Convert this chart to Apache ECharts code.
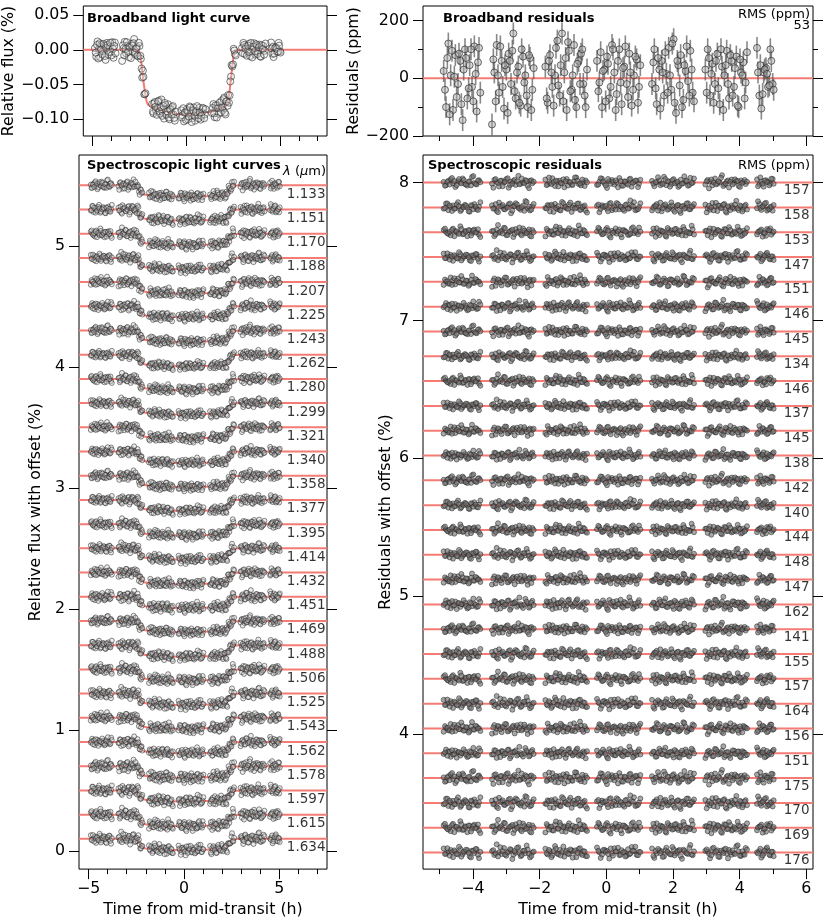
<!DOCTYPE html>
<html>
<head>
<meta charset="utf-8">
<script src="https://cdn.jsdelivr.net/npm/echarts@6/dist/echarts.min.js"></script>
<style>
  html, body { margin: 0; padding: 0; background: #fff; }
  #main { width: 830px; height: 923px; }
</style>
</head>
<body>
<div id="main"></div>
<script>
// time stamps (h from mid-transit), seven HST-like orbits; two interleaved sets of exposures
const times = [
  -4.88, -4.81, -4.74, -4.67, -4.60, -4.53, -4.45, -4.38, -4.31, -4.24, -4.17, -4.10, -4.03, -3.96, -3.89, -3.82,
  -3.43, -3.36, -3.29, -3.22, -3.14, -3.07, -3.00, -2.93, -2.86, -2.79, -2.72, -2.64, -2.57, -2.50, -2.43, -2.36, -2.29, -2.22,
  -1.83, -1.76, -1.69, -1.62, -1.54, -1.47, -1.40, -1.33, -1.26, -1.19, -1.12, -1.04, -0.97, -0.90, -0.83, -0.76, -0.69, -0.62,
  -0.28, -0.21, -0.13, -0.06, 0.02, 0.09, 0.17, 0.24, 0.31, 0.39, 0.46, 0.54, 0.61, 0.69, 0.76, 0.83, 0.91, 0.98,
  1.37, 1.44, 1.51, 1.59, 1.66, 1.73, 1.80, 1.87, 1.95, 2.02, 2.09, 2.16, 2.23, 2.31, 2.38, 2.45, 2.52, 2.59,
  2.97, 3.04, 3.11, 3.18, 3.26, 3.33, 3.40, 3.47, 3.54, 3.61, 3.68, 3.76, 3.83, 3.90, 3.97, 4.04, 4.11, 4.18,
  4.52, 4.59, 4.65, 4.72, 4.79, 4.85, 4.92, 4.99
];
const timesB = [
  -4.84, -4.77, -4.70, -4.63, -4.56, -4.49, -4.42, -4.35, -4.28, -4.21, -4.13, -4.06, -3.99, -3.92, -3.85, -3.78,
  -3.39, -3.32, -3.25, -3.18, -3.11, -3.04, -2.96, -2.89, -2.82, -2.75, -2.68, -2.61, -2.54, -2.46, -2.39, -2.32, -2.25, -2.18,
  -1.79, -1.72, -1.65, -1.58, -1.51, -1.44, -1.37, -1.29, -1.22, -1.15, -1.08, -1.01, -0.94, -0.87, -0.79, -0.72, -0.65, -0.58,
  -0.24, -0.17, -0.10, -0.02, 0.05, 0.13, 0.20, 0.28, 0.35, 0.43, 0.50, 0.57, 0.65, 0.72, 0.80, 0.87, 0.95, 1.02,
  1.41, 1.48, 1.55, 1.62, 1.69, 1.77, 1.84, 1.91, 1.98, 2.05, 2.13, 2.20, 2.27, 2.34, 2.41, 2.49, 2.56, 2.63,
  3.01, 3.08, 3.15, 3.22, 3.29, 3.36, 3.44, 3.51, 3.58, 3.65, 3.72, 3.79, 3.86, 3.94, 4.01, 4.08, 4.15, 4.22,
  4.55, 4.62, 4.69, 4.75, 4.82, 4.89, 4.95, 5.02
];

// broadband transit model (%), one value per time stamp
const modelFlux = [
  0, 0, 0, 0, 0, 0, 0, 0, 0, 0, 0, 0, 0, 0, 0, 0,
  0, 0, 0, 0, 0, 0, 0, 0, 0, 0, 0, 0, 0, -0.002, -0.014, -0.030, -0.046, -0.060,
  -0.082, -0.083, -0.083, -0.084, -0.085, -0.086, -0.086, -0.087, -0.088, -0.088, -0.089, -0.089, -0.090, -0.090, -0.091, -0.091, -0.091, -0.092,
  -0.093, -0.093, -0.093, -0.093, -0.093, -0.093, -0.093, -0.093, -0.093, -0.093, -0.093, -0.092, -0.092, -0.092, -0.091, -0.091, -0.091, -0.090,
  -0.089, -0.088, -0.088, -0.087, -0.086, -0.086, -0.085, -0.084, -0.083, -0.082, -0.081, -0.079, -0.073, -0.058, -0.041, -0.023, -0.008, -0.001,
  0, 0, 0, 0, 0, 0, 0, 0, 0, 0, 0, 0, 0, 0, 0, 0, 0, 0,
  0, 0, 0, 0, 0, 0, 0, 0
];
const modelFluxB = [
  0, 0, 0, 0, 0, 0, 0, 0, 0, 0, 0, 0, 0, 0, 0, 0,
  0, 0, 0, 0, 0, 0, 0, 0, 0, 0, 0, 0, 0, -0.007, -0.021, -0.038, -0.053, -0.066,
  -0.082, -0.083, -0.084, -0.084, -0.085, -0.086, -0.087, -0.087, -0.088, -0.089, -0.089, -0.090, -0.090, -0.091, -0.091, -0.091, -0.092, -0.092,
  -0.093, -0.093, -0.093, -0.093, -0.093, -0.093, -0.093, -0.093, -0.093, -0.093, -0.093, -0.092, -0.092, -0.092, -0.091, -0.091, -0.090, -0.090,
  -0.089, -0.088, -0.087, -0.087, -0.086, -0.085, -0.085, -0.084, -0.083, -0.082, -0.080, -0.078, -0.066, -0.050, -0.033, -0.015, -0.004, 0,
  0, 0, 0, 0, 0, 0, 0, 0, 0, 0, 0, 0, 0, 0, 0, 0, 0, 0,
  0, 0, 0, 0, 0, 0, 0, 0
];
// model values inside the gap after ingress (line only)
const gapModelT = [-2.12, -2.05, -1.95];
const gapModelF = [-0.075, -0.079, -0.081];

// broadband residuals (ppm)
const bbResid = [
  25, -100, 120, 10, -110, 80, -20, 60, -145, 100, -70, 45, -30, 110, -115, 105,
  -160, 20, 115, -50, 60, -105, 30, 85, -20, 155, -70, 40, -95, 75, 10, -100, 70, -40,
  40, -85, 80, -30, 10, 130, -60, 155, 20, -110, 95, -40, 115, -100, 60, 85, -20, -100,
  60, -15, -100, 30, 75, -70, 115, 20, -55, 100, -90, 40, -20, 85, -95, 10, 65, -30,
  -20, 100, -90, 30, 60, -60, 15, 105, -40, 135, -120, 45, 80, -75, 25, -10, 95, -50,
  30, 100, -60, 50, -20, 85, -90, 40, 10, 95, -70, 60, -30, 75, -100, 20, 55, -15,
  105, -60, -105, 20, 35, -30, 100, -20
];
const bbResidB = [
  -40, 70, -125, 95, 5, -65, 85, -90, 30, 70, -35, 100, -80, 15, 55, -50,
  65, -80, 10, 110, -30, 45, -120, 60, 95, -45, 20, -85, 100, -15, -60, 80, -110, 35,
  -70, 60, 20, -95, 105, -25, 45, -80, 70, 125, -45, 10, -75, 50, -20, 100, -60, 30,
  -45, 90, 25, -80, 50, -30, 100, -110, 60, -15, 35, 110, -65, 20, -40, 75, -85, 45,
  55, -35, 70, -105, 20, 90, -50, 10, 120, -85, 60, -25, -100, 45, 110, -60, 30, -80,
  -50, 70, 15, -85, 60, -35, 100, -110, 45, -20, 80, -60, 35, -95, 65, 10, -70, 90,
  20, 45, -55, 30, 15, -25, 60, -40
];
const bbErrPpm = 38;
const bbRms = '53';

// spectroscopic residual patterns (in units of each channel's RMS)
const noiseA = [
  0.3, -1.2, 0.8, 1.5, -0.4, -2.1, 0.6, 0.1, 1.9, -0.7, -1.4, 0.5, 2.6, -0.2, -0.9, 1.1,
  -0.5, 1.3, 0.2, -1.8, 0.9, -0.1, 1.6, -2.4, 0.4, 0.7, -1.1, 3.1, -0.6, 0.0, 1.2, -1.5, 0.8, -0.3,
  1.4, -0.8, -0.2, 2.0, -1.6, 0.5, 0.9, -0.4, -2.2, 1.7, 0.3, -1.0, 0.6, 2.3, -0.7, -1.3, 0.2, 1.0,
  -1.1, 0.4, 1.8, -0.3, -2.5, 0.7, 1.2, -0.9, 0.1, 2.1, -1.4, 0.6, -0.5, 1.5, -1.9, 0.3, 0.9, -0.6,
  0.8, -1.7, 0.2, 1.1, -0.4, 2.7, -1.2, 0.5, -0.8, 1.6, 0.0, -2.0, 1.3, -0.3, 0.7, -1.5, 2.2, -0.1,
  -0.9, 1.2, 0.4, -1.3, 1.9, -0.6, 0.1, 3.4, -1.0, 0.6, -2.3, 1.4, -0.2, 0.8, -1.6, 1.0, 0.3, -0.7,
  1.5, -0.8, 0.4, -1.9, 1.1, 0.2, -0.5, 1.7
];
const noiseB = [
  -0.6, 1.8, -1.3, 0.2, 0.9, -0.5, 2.4, -1.7, 0.4, 1.2, -0.1, -2.0, 0.7, 1.5, -0.9, 0.3,
  1.0, -0.4, -1.6, 2.2, 0.5, -0.8, 0.1, 1.4, -2.7, 0.6, 1.9, -0.2, -1.1, 0.8, 2.9, -0.5, -1.4, 0.4,
  -0.3, 1.1, -1.9, 0.6, 1.6, -0.7, -1.2, 2.5, 0.2, -0.5, 1.3, -2.1, 0.9, -0.1, 1.8, -1.0, 0.4, -1.5,
  0.7, -2.2, 1.0, 0.3, -0.6, 1.7, -1.3, 0.5, 2.0, -0.9, 0.1, -1.6, 1.4, -0.4, 0.8, 2.4, -1.1, 0.2,
  -1.4, 0.6, 1.5, -0.2, -1.8, 0.9, 0.3, -0.7, 2.3, -1.2, 0.4, 1.1, -2.6, 0.7, -0.3, 1.9, -0.8, 0.5,
  1.3, -0.5, -1.1, 2.0, 0.4, -1.7, 0.8, -0.2, 1.6, -2.4, 0.1, 0.9, -0.6, 3.0, -1.3, 0.5, -0.9, 1.2,
  -0.4, 1.6, -1.2, 0.7, 2.1, -0.9, 0.3, -1.5
];
const noiseC = [
  1.1, 0.2, -0.8, -1.5, 1.7, 0.4, -0.3, 2.8, -1.0, 0.6, -1.9, 0.9, -0.4, 1.3, 0.0, -1.2,
  0.5, -1.9, 1.2, -0.3, 0.8, 2.1, -1.4, -0.1, 0.7, -2.3, 1.5, 0.3, -0.9, 1.8, -0.6, 0.4, -1.7, 1.0,
  -2.0, 0.8, 0.3, -1.1, 1.4, -0.4, 2.2, -1.5, 0.6, -0.2, 1.9, -0.8, -1.3, 0.5, 3.2, -0.6, 1.1, -0.9,
  0.4, 1.5, -1.0, -0.3, 2.0, -1.8, 0.7, 0.2, -0.7, 1.3, -2.4, 0.9, 0.1, -1.2, 1.7, -0.5, -0.1, 2.2,
  -0.7, 0.3, 1.9, -1.4, 0.6, -0.2, -2.1, 1.2, 0.8, -0.5, 1.6, -1.0, 0.4, 2.5, -1.6, 0.1, -0.4, 1.4,
  0.6, -1.5, 1.8, -0.1, -0.9, 1.1, 0.4, -2.2, 1.5, -0.6, 2.4, -1.2, 0.3, -0.8, 1.0, -1.8, 0.7, 0.0,
  -1.1, 0.5, 1.3, -0.6, -1.7, 0.9, 1.8, -0.3
];

// channels
const wavelengths = ['1.133', '1.151', '1.170', '1.188', '1.207', '1.225', '1.243', '1.262', '1.280', '1.299',
  '1.321', '1.340', '1.358', '1.377', '1.395', '1.414', '1.432', '1.451', '1.469', '1.488',
  '1.506', '1.525', '1.543', '1.562', '1.578', '1.597', '1.615', '1.634'];
const rmsPpm = [157, 158, 153, 147, 151, 146, 145, 134, 146, 137, 145, 138, 142, 140, 144, 148, 147, 162, 141, 155,
  157, 164, 156, 151, 175, 170, 169, 176];
const depthScale = [1.00, 0.98, 1.01, 0.99, 1.02, 0.97, 1.00, 1.03, 0.99, 1.01, 0.98, 1.02, 1.00, 0.97,
  1.01, 0.99, 1.03, 1.00, 0.98, 1.02, 0.99, 1.01, 0.97, 1.00, 1.02, 0.98, 1.01, 1.00];
const lcOffsets = [5.5, 5.3, 5.1, 4.9, 4.7, 4.5, 4.3, 4.1, 3.9, 3.7, 3.5, 3.3, 3.1, 2.9, 2.7, 2.5, 2.3, 2.1,
  1.9, 1.7, 1.5, 1.3, 1.1, 0.9, 0.7, 0.5, 0.3, 0.1];
const resOffsets = [8.00, 7.82, 7.64, 7.46, 7.28, 7.10, 6.92, 6.74, 6.56, 6.38, 6.20, 6.02, 5.84, 5.66,
  5.48, 5.30, 5.12, 4.94, 4.76, 4.58, 4.40, 4.22, 4.04, 3.86, 3.68, 3.50, 3.32, 3.14];

// axis ranges and ticks
const xLeft = [-5.5, 7.5], xRight = [-5.5, 6.2];
const xLeftMajor = [-5, 0, 5], xLeftMinor = [-4, -3, -2, -1, 1, 2, 3, 4, 6, 7];
const xRightMajor = [-4, -2, 0, 2, 4, 6], xRightMinor = [-5, -3, -1, 1, 3, 5];
const yBb = [-0.124, 0.063], yBbTicks = [-0.10, -0.05, 0.00, 0.05];
const yBbRes = [-200, 250], yBbResTicks = [-200, 0, 200], yBbResMinor = [-100, 100];
const yLc = [-0.15, 5.75], yLcTicks = [0, 1, 2, 3, 4, 5];
const yRes = [3.02, 8.2], yResTicks = [4, 5, 6, 7, 8];

[timesB, modelFlux, modelFluxB, bbResid, bbResidB, noiseA, noiseB, noiseC].forEach((a, i) => {
  if (a.length !== times.length) throw new Error('array ' + i + ' has ' + a.length + ' values, expected ' + times.length);
});

const FONT = 'DejaVu Sans';
const RED = '#f47c74';
const AX_FS = 15.8;
const minus = s => String(s).replace('-', '\u2212');

const chart = echarts.init(document.getElementById('main'));

const grids = [
  { left: 79, top: 6, width: 248, height: 130 },
  { left: 423, top: 6, width: 390, height: 130 },
  { left: 79, top: 155, width: 248, height: 719 },
  { left: 423, top: 155, width: 390, height: 719 }
].map(g => Object.assign(g, { show: true, borderColor: '#000', borderWidth: 1, containLabel: false }));

const xAxis = [], yAxis = [];
function addX(gridIndex, range, values, len, labels, name) {
  xAxis.push({
    type: 'value', gridIndex, min: range[0], max: range[1], position: 'bottom',
    axisLine: { show: false, onZero: false },
    splitLine: { show: false },
    axisTick: { show: true, length: len, customValues: values, lineStyle: { color: '#000', width: 1 } },
    axisLabel: { show: labels, customValues: values, margin: 12, fontFamily: FONT, fontSize: AX_FS, color: '#000',
      formatter: v => minus(v) },
    name: name || '', nameLocation: 'middle', nameGap: 28.5,
    nameTextStyle: { fontFamily: FONT, fontSize: AX_FS, color: '#000' }
  });
  return xAxis.length - 1;
}
function addY(gridIndex, range, values, len, side, labelFmt, name, gap) {
  yAxis.push({
    type: 'value', gridIndex, min: range[0], max: range[1], position: side,
    axisLine: { show: false, onZero: false },
    splitLine: { show: false },
    axisTick: { show: true, length: len, customValues: values, lineStyle: { color: '#000', width: 1 } },
    axisLabel: { show: !!labelFmt, customValues: values, margin: 14, fontFamily: FONT, fontSize: AX_FS, color: '#000',
      formatter: labelFmt || (v => '') },
    name: name || '', nameLocation: 'middle', nameGap: gap || 30, nameRotate: 90,
    nameTextStyle: { fontFamily: FONT, fontSize: AX_FS, color: '#000' }
  });
  return yAxis.length - 1;
}

// x axes: major then minor ticks per panel
const xa0 = addX(0, xLeft, xLeftMajor, 10, false); addX(0, xLeft, xLeftMinor, 5, false);
const xa1 = addX(1, xRight, xRightMajor, 10, false); addX(1, xRight, xRightMinor, 5, false);
const xa2 = addX(2, xLeft, xLeftMajor, 10, true, 'Time from mid-transit (h)'); addX(2, xLeft, xLeftMinor, 5, false);
const xa3 = addX(3, xRight, xRightMajor, 10, true, 'Time from mid-transit (h)'); addX(3, xRight, xRightMinor, 5, false);

// y axes: left with labels, right with ticks only
const ya0 = addY(0, yBb, yBbTicks, 10, 'left', v => minus(v.toFixed(2)), 'Relative flux (%)', 60);
addY(0, yBb, yBbTicks, 10, 'right');
const ya1 = addY(1, yBbRes, yBbResTicks, 10, 'left', v => minus(v), 'Residuals (ppm)', 55);
addY(1, yBbRes, yBbResTicks, 10, 'right');
addY(1, yBbRes, yBbResMinor, 5, 'left');
addY(1, yBbRes, yBbResMinor, 5, 'right');
const ya2 = addY(2, yLc, yLcTicks, 10, 'left', v => minus(v), 'Relative flux with offset (%)', 35);
addY(2, yLc, yLcTicks, 10, 'right');
const ya3 = addY(3, yRes, yResTicks, 10, 'left', v => minus(v), 'Residuals with offset (%)', 29);
addY(3, yRes, yResTicks, 10, 'right');

const series = [];
const lineStyle = { color: RED, width: 2 };
const byTime = (a, b) => a[0] - b[0];

// broadband light curve
const bbModelPts = times.map((t, i) => [t, modelFlux[i]])
  .concat(timesB.map((t, i) => [t, modelFluxB[i]]), gapModelT.map((t, i) => [t, gapModelF[i]]))
  .sort(byTime);
series.push({
  type: 'line', xAxisIndex: xa0, yAxisIndex: ya0, showSymbol: false, silent: true, z: 2,
  lineStyle,
  data: [[xLeft[0], 0]].concat(bbModelPts, [[xLeft[1], 0]])
});
series.push({
  type: 'scatter', xAxisIndex: xa0, yAxisIndex: ya0, symbolSize: 7, z: 3,
  itemStyle: { color: 'rgba(225,225,225,0.35)', borderColor: 'rgba(40,40,40,0.75)', borderWidth: 1 },
  data: times.map((t, i) => [t, modelFlux[i] + bbResid[i] * 1e-4])
    .concat(timesB.map((t, i) => [t, modelFluxB[i] + bbResidB[i] * 1e-4]))
});

// broadband residuals
const bbResPts = times.map((t, i) => [t, bbResid[i], bbErrPpm]).concat(timesB.map((t, i) => [t, bbResidB[i], bbErrPpm]));
series.push({
  type: 'line', xAxisIndex: xa1, yAxisIndex: ya1, showSymbol: false, silent: true, z: 2,
  lineStyle, data: [[xRight[0], 0], [xRight[1], 0]]
});
series.push({
  type: 'custom', xAxisIndex: xa1, yAxisIndex: ya1, z: 3, silent: true,
  data: bbResPts,
  renderItem: (params, api) => {
    const a = api.coord([api.value(0), api.value(1) - api.value(2)]);
    const b = api.coord([api.value(0), api.value(1) + api.value(2)]);
    return { type: 'line', shape: { x1: a[0], y1: a[1], x2: b[0], y2: b[1] },
      style: { stroke: 'rgba(90,90,90,0.72)', lineWidth: 1.6 } };
  }
});
series.push({
  type: 'scatter', xAxisIndex: xa1, yAxisIndex: ya1, symbolSize: 7, z: 4,
  itemStyle: { color: 'rgba(170,170,170,0.6)', borderColor: 'rgba(35,35,35,0.8)', borderWidth: 1 },
  data: bbResPts.map(p => [p[0], p[1]])
});

// spectroscopic channels
const patterns = [noiseA, noiseB, noiseC];
function pickPattern(k, shift) {
  let pat = patterns[(k + shift) % 3];
  if ((Math.floor(k / 3) + shift) % 2 === 1) pat = pat.slice().reverse();
  return pat;
}
wavelengths.forEach((wl, k) => {
  const resA = pickPattern(k, 0).map(v => v * rmsPpm[k] * 1e-4);
  const resB = pickPattern(k, 1).map(v => v * rmsPpm[k] * 1e-4);
  const lcModel = bbModelPts.map(p => [p[0], lcOffsets[k] + p[1] * depthScale[k]]);
  const lcPts = times.map((t, i) => [t, lcOffsets[k] + modelFlux[i] * depthScale[k] + resA[i]])
    .concat(timesB.map((t, i) => [t, lcOffsets[k] + modelFluxB[i] * depthScale[k] + resB[i]]));
  const resPts = times.map((t, i) => [t, resOffsets[k] + resA[i]])
    .concat(timesB.map((t, i) => [t, resOffsets[k] + resB[i]]));

  series.push({
    type: 'line', xAxisIndex: xa2, yAxisIndex: ya2, showSymbol: false, silent: true, z: 2, lineStyle,
    data: [[xLeft[0], lcOffsets[k]]].concat(lcModel, [[xLeft[1], lcOffsets[k]]])
  });
  series.push({
    type: 'scatter', xAxisIndex: xa2, yAxisIndex: ya2, symbolSize: 5, z: 3,
    itemStyle: { color: 'rgba(200,200,200,0.45)', borderColor: 'rgba(30,30,30,0.8)', borderWidth: 0.8 },
    data: lcPts
  });

  series.push({
    type: 'line', xAxisIndex: xa3, yAxisIndex: ya3, showSymbol: false, silent: true, z: 2, lineStyle,
    data: [[xRight[0], resOffsets[k]], [xRight[1], resOffsets[k]]]
  });
  series.push({
    type: 'scatter', xAxisIndex: xa3, yAxisIndex: ya3, symbolSize: 5, z: 3,
    itemStyle: { color: 'rgba(110,110,110,0.75)', borderColor: 'rgba(30,30,30,0.8)', borderWidth: 0.8 },
    data: resPts
  });
});

// channel labels under each line
const labelBase = { show: true, position: 'left', fontFamily: FONT, fontSize: 13.5, color: '#000', formatter: p => p.name };
series.push({
  type: 'scatter', xAxisIndex: xa2, yAxisIndex: ya2, symbolSize: 1, z: 6, clip: false, silent: true,
  itemStyle: { color: 'rgba(0,0,0,0)' },
  label: Object.assign({}, labelBase, { distance: 1, offset: [0, 9] }),
  data: wavelengths.map((wl, k) => ({ name: wl, value: [xLeft[1], lcOffsets[k]] }))
});
series.push({
  type: 'scatter', xAxisIndex: xa3, yAxisIndex: ya3, symbolSize: 1, z: 6, clip: false, silent: true,
  itemStyle: { color: 'rgba(0,0,0,0)' },
  label: Object.assign({}, labelBase, { distance: 3, offset: [0, 8] }),
  data: rmsPpm.map((r, k) => ({ name: String(r), value: [xRight[1], resOffsets[k]] }))
});

const bold = 'bold 13px "DejaVu Sans"';
const plain = '13px "DejaVu Sans"';
const graphic = [
  { type: 'text', x: 87, y: 18.5, z: 10, style: { text: 'Broadband light curve', font: bold, fill: '#000', verticalAlign: 'middle' } },
  { type: 'text', x: 443, y: 18.5, z: 10, style: { text: 'Broadband residuals', font: bold, fill: '#000', verticalAlign: 'middle' } },
  { type: 'text', x: 810, y: 15, z: 10, style: { text: 'RMS (ppm)', font: plain, fill: '#000', align: 'right', verticalAlign: 'middle' } },
  { type: 'text', x: 810, y: 25.5, z: 10, style: { text: bbRms, font: plain, fill: '#000', align: 'right', verticalAlign: 'middle' } },
  { type: 'text', x: 87, y: 165.5, z: 10, style: { text: 'Spectroscopic light curves', font: bold, fill: '#000', verticalAlign: 'middle' } },
  { type: 'text', x: 326, y: 172, z: 10, style: {
      text: '{i|\u03bb} ({i|\u03bc}m)', font: plain, fill: '#000', align: 'right', verticalAlign: 'middle',
      rich: { i: { fontStyle: 'italic', fontFamily: FONT, fontSize: 13 } } } },
  { type: 'text', x: 428, y: 165.5, z: 10, style: { text: 'Spectroscopic residuals', font: bold, fill: '#000', verticalAlign: 'middle' } },
  { type: 'text', x: 810, y: 165.5, z: 10, style: { text: 'RMS (ppm)', font: plain, fill: '#000', align: 'right', verticalAlign: 'middle' } }
];

chart.setOption({
  animation: false,
  backgroundColor: '#fff',
  textStyle: { fontFamily: FONT },
  grid: grids,
  xAxis,
  yAxis,
  series,
  graphic
});
</script>
</body>
</html>
